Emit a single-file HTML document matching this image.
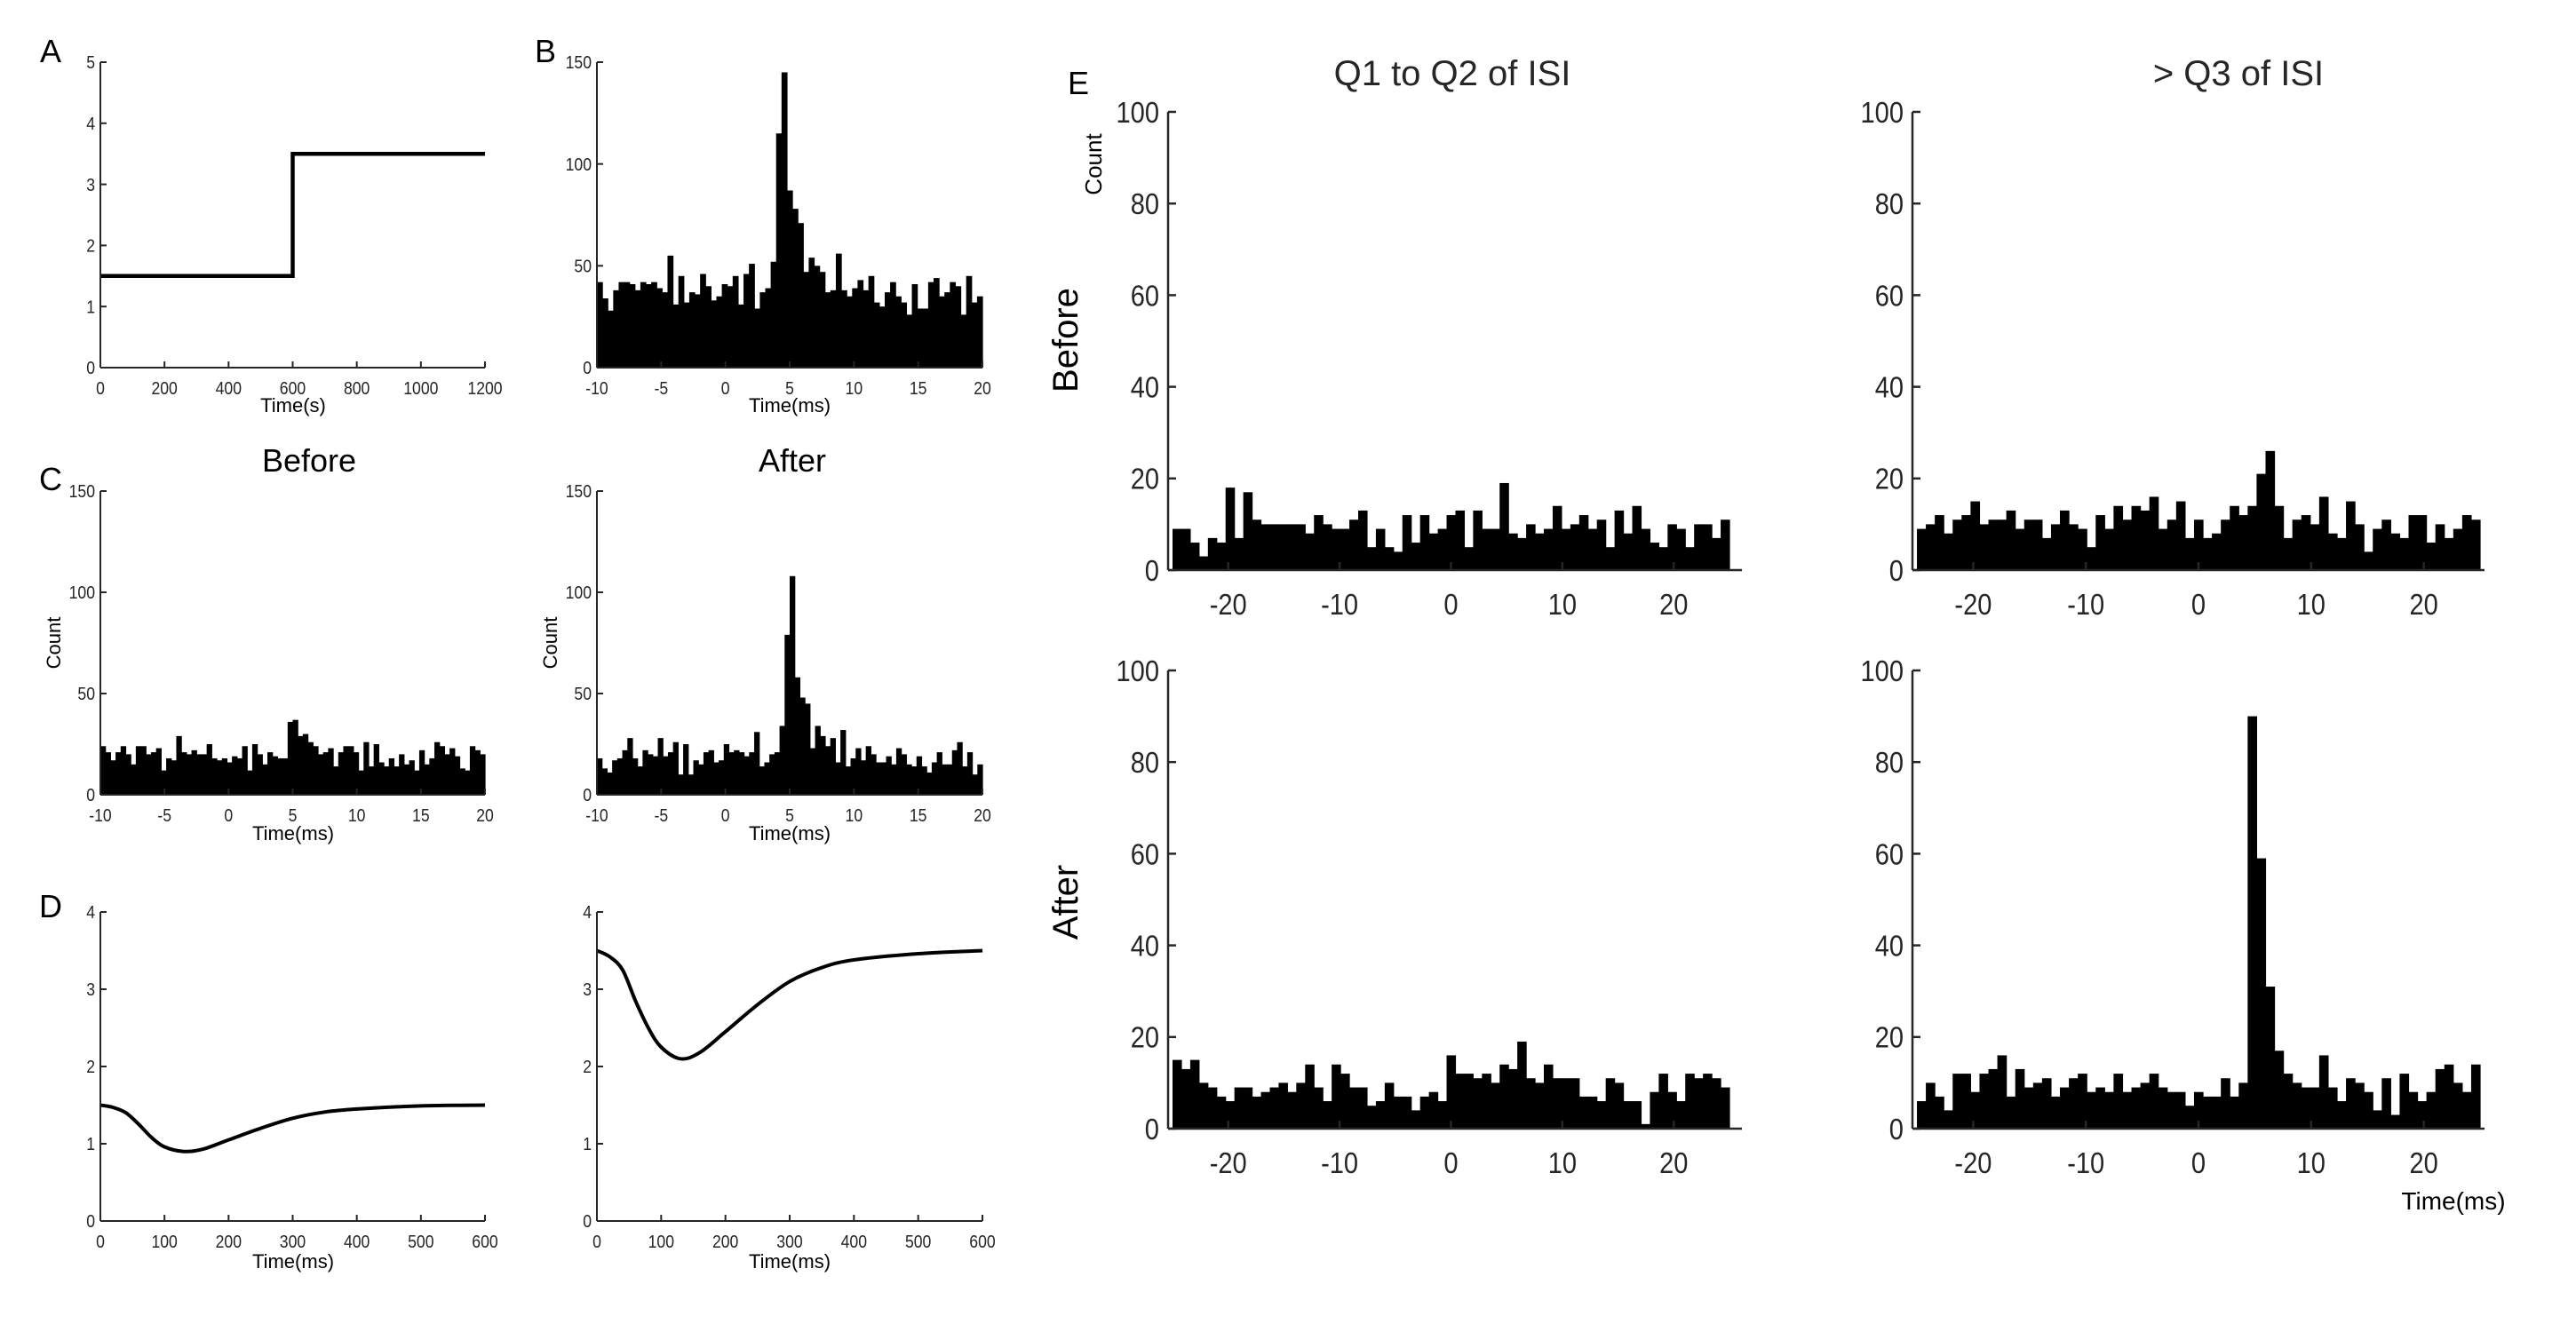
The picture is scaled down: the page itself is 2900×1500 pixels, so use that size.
<!DOCTYPE html>
<html><head><meta charset="utf-8"><style>
html,body{margin:0;padding:0;background:#fff;}
svg{display:block;}
.tk{font-family:"Liberation Sans Narrow","Liberation Sans",sans-serif;fill:#262626;}
.lb{font-family:"Liberation Sans",sans-serif;fill:#000;}
</style></head><body>
<svg id="fig" xmlns="http://www.w3.org/2000/svg" width="2900" height="1500" viewBox="0 0 2900 1500"></svg>
<script>
// ---- data ----
const aTimes=[0,600,600,1200];
const aValues=[1.5,1.5,3.5,3.5];
const bCounts=[42,34,28,38,42,42,41,38,42,41,42,39,37,55,31,45,32,37,36,46,40,33,35,41,40,45,31,46,51,29,37,39,52,115,145,87,78,71,47,54,50,47,37,38,56,38,35,39,43,38,45,32,30,37,42,35,32,26,41,29,29,42,44,35,37,42,40,26,45,32,35];
const cBeforeCounts=[24,21,17,21,24,20,15,24,24,20,21,23,12,18,17,29,21,20,22,20,20,25,18,17,18,16,19,18,24,12,25,20,15,21,19,18,18,36,37,29,30,26,24,20,21,23,14,21,24,24,21,12,26,14,25,16,14,18,14,20,15,17,12,22,15,18,26,24,20,23,19,13,12,24,22,20];
const cAfterCounts=[18,13,11,17,18,22,28,18,14,22,20,19,28,19,21,26,10,25,10,17,15,21,22,16,17,25,21,22,21,19,21,31,14,16,20,21,34,79,108,58,48,45,23,34,29,24,28,16,32,14,18,23,17,24,20,16,16,19,15,23,20,15,14,19,14,11,16,21,15,15,22,26,14,21,10,15];
const dLeftT=[0,20,40,60,80,100,130,160,200,250,300,350,400,500,600];
const dLeftV=[1.5,1.47,1.4,1.25,1.08,0.96,0.9,0.93,1.05,1.2,1.33,1.41,1.45,1.49,1.5];
const dRightT=[0,20,40,60,80,100,130,160,200,250,300,350,400,500,600];
const dRightV=[3.5,3.42,3.25,2.85,2.5,2.25,2.1,2.18,2.45,2.8,3.1,3.28,3.38,3.46,3.5];
const eQ12Before=[9,9,6,3,7,6,18,7,17,11,10,10,10,10,10,8,12,10,9,9,11,13,5,9,5,4,12,6,12,8,9,12,13,5,13,9,9,19,8,7,10,8,9,14,9,10,12,9,11,5,13,8,14,9,6,5,10,9,5,10,10,7,11];
const eQ3Before=[9,10,12,8,11,12,15,10,11,11,13,9,11,11,7,10,13,10,9,5,12,9,14,11,14,13,16,9,11,15,7,11,7,8,11,14,12,14,21,26,14,7,11,12,10,16,8,7,15,10,4,9,11,8,7,12,12,6,10,7,9,12,11];
const eQ12After=[15,13,15,10,9,7,6,9,9,7,8,9,10,8,10,14,9,6,14,12,9,9,5,6,10,7,7,4,7,8,6,16,12,12,11,12,10,14,13,19,11,10,14,11,11,11,7,7,6,11,10,6,6,1,8,12,8,6,12,11,12,11,9];
const eQ3After=[6,10,7,4,12,12,8,12,13,16,7,13,9,10,11,7,9,11,12,8,9,8,12,8,9,10,12,9,8,8,5,8,7,7,11,7,10,90,59,31,17,12,10,9,9,16,9,6,11,10,8,4,11,3,12,8,6,8,13,14,10,8,14];
const aXTicks=[0,200,400,600,800,1000,1200];
const aYTicks=[0,1,2,3,4,5];
const bXTicks=[-10,-5,0,5,10,15,20];
const bYTicks=[0,50,100,150];
const dXTicks=[0,100,200,300,400,500,600];
const dYTicks=[0,1,2,3,4];
const eXTicks=[-20,-10,0,10,20];
const eYTicks=[0,20,40,60,80,100];

const NS='http://www.w3.org/2000/svg';
const svg=document.getElementById('fig');
function mk(tag,attrs,txt){const e=document.createElementNS(NS,tag);for(const k in attrs)e.setAttribute(k,attrs[k]);if(txt!==undefined)e.textContent=txt;svg.appendChild(e);return e;}

function makeAxes(p){
  const sx=v=>p.x0+(v-p.xmin)/(p.xmax-p.xmin)*(p.x1-p.x0);
  const sy=v=>p.yb-(v-p.ymin)/(p.ymax-p.ymin)*(p.yb-p.yt);
  return {sx,sy};
}
function drawAxes(p,s){
  const ax=p.yAxisX!==undefined?p.yAxisX:p.x0;
  const xa=mk('line',{x1:ax,y1:p.yb,x2:p.xAxisEnd||p.x1,y2:p.yb,stroke:'#262626','stroke-width':p.lw});
  
  
  const ya=mk('line',{x1:ax,y1:p.yb,x2:ax,y2:p.yt,stroke:'#262626','stroke-width':p.lw});
  
  
  p.xticks.forEach(v=>{
    const x=s.sx(v);
    const t=mk('line',{x1:x,y1:p.yb,x2:x,y2:p.yb-p.tl,stroke:'#262626','stroke-width':p.lw});
    
    
    const l=mk('text',{x:x,y:p.yb+p.xlo,'font-size':p.fs,'text-anchor':'middle',class:'tk tick'},String(v));
    
    
  });
  p.yticks.forEach(v=>{
    const y=s.sy(v);
    const t=mk('line',{x1:ax,y1:y,x2:ax+p.tl,y2:y,stroke:'#262626','stroke-width':p.lw});
    
    
    const l=mk('text',{x:ax-p.ylo,y:y+p.fs*0.36,'font-size':p.fs,'text-anchor':'end',class:'tk tick'},String(v));
    
    
  });
}
function drawHist(p,vals){
  const s=makeAxes(p);
  const n=vals.length,w=(p.xmax-p.xmin)/n;
  vals.forEach((v,i)=>{
    const xa=s.sx(p.xmin+i*w),xb=s.sx(p.xmin+(i+1)*w);
    const r=mk('rect',{x:xa,y:s.sy(v),width:xb-xa+0.6,height:s.sy(0)-s.sy(v),fill:'#000'});
    
    
  });
  drawAxes(p,s);
}
function smoothPath(pts){
  let d='M'+pts[0][0]+','+pts[0][1];
  for(let i=0;i<pts.length-1;i++){
    const p0=pts[Math.max(0,i-1)],p1=pts[i],p2=pts[i+1],p3=pts[Math.min(pts.length-1,i+2)];
    const c1=[p1[0]+(p2[0]-p0[0])/6,p1[1]+(p2[1]-p0[1])/6];
    const c2=[p2[0]-(p3[0]-p1[0])/6,p2[1]-(p3[1]-p1[1])/6];
    d+=' C'+c1[0]+','+c1[1]+' '+c2[0]+','+c2[1]+' '+p2[0]+','+p2[1];
  }
  return d;
}
function drawCurve(p,ts,vs,smooth){
  const s=makeAxes(p);
  const pts=ts.map((t,i)=>[s.sx(t),s.sy(vs[i])]);
  const d=smooth?smoothPath(pts):'M'+pts.map(q=>q[0]+','+q[1]).join(' L');
  const c=mk('path',{d:d,fill:'none',stroke:'#000','stroke-width':p.cw,'stroke-linejoin':'miter'});
  
  
  drawAxes(p,s);
}
function label(txt,x,y,fs,name,rot,cls){
  const e=mk('text',{x:x,y:y,'font-size':fs,'text-anchor':'middle',class:cls||'lb'},txt);
  if(rot)e.setAttribute('transform','rotate(-90 '+x+' '+y+')');
  
  
}
const small={lw:2,tl:7,fs:20,xlo:30,ylo:6};
const big={lw:2.5,tl:9,fs:33,xlo:50,ylo:10};

drawCurve(Object.assign({name:'panel-a',x0:113,x1:546,yb:414,yt:70,xmin:0,xmax:1200,ymin:0,ymax:5,xticks:aXTicks,yticks:aYTicks,cw:4.5},small),aTimes,aValues,false);
drawHist(Object.assign({name:'panel-b',x0:672,x1:1106,yb:414,yt:70,xmin:-10,xmax:20,ymin:0,ymax:150,xticks:bXTicks,yticks:bYTicks},small),bCounts);
drawHist(Object.assign({name:'panel-c-before',x0:113,x1:546,yb:895,yt:553,xmin:-10,xmax:20,ymin:0,ymax:150,xticks:bXTicks,yticks:bYTicks},small),cBeforeCounts);
drawHist(Object.assign({name:'panel-c-after',x0:672,x1:1106,yb:895,yt:553,xmin:-10,xmax:20,ymin:0,ymax:150,xticks:bXTicks,yticks:bYTicks},small),cAfterCounts);
drawCurve(Object.assign({name:'panel-d-before',x0:113,x1:546,yb:1375,yt:1027,xmin:0,xmax:600,ymin:0,ymax:4,xticks:dXTicks,yticks:dYTicks,cw:4},small),dLeftT,dLeftV,true);
drawCurve(Object.assign({name:'panel-d-after',x0:672,x1:1106,yb:1375,yt:1027,xmin:0,xmax:600,ymin:0,ymax:4,xticks:dXTicks,yticks:dYTicks,cw:4},small),dRightT,dRightV,true);
drawHist(Object.assign({name:'e-q12-before',x0:1320,x1:1947,yAxisX:1315,xAxisEnd:1961,yb:642,yt:126,xmin:-25,xmax:25,ymin:0,ymax:100,xticks:eXTicks,yticks:eYTicks},big),eQ12Before);
drawHist(Object.assign({name:'e-q3-before',x0:2158,x1:2792,yAxisX:2153,xAxisEnd:2797,yb:642,yt:126,xmin:-25,xmax:25,ymin:0,ymax:100,xticks:eXTicks,yticks:eYTicks},big),eQ3Before);
drawHist(Object.assign({name:'e-q12-after',x0:1320,x1:1947,yAxisX:1315,xAxisEnd:1961,yb:1271,yt:755,xmin:-25,xmax:25,ymin:0,ymax:100,xticks:eXTicks,yticks:eYTicks},big),eQ12After);
drawHist(Object.assign({name:'e-q3-after',x0:2158,x1:2792,yAxisX:2153,xAxisEnd:2797,yb:1271,yt:755,xmin:-25,xmax:25,ymin:0,ymax:100,xticks:eXTicks,yticks:eYTicks},big),eQ3After);

label('A',57,70,36,'panel-a-letter');
label('B',614,70,36,'panel-b-letter');
label('C',57,552,36,'panel-c-letter');
label('D',57,1033,36,'panel-d-letter');
label('E',1214,106,36,'panel-e-letter');
label('Time(s)',330,464,22,'panel-a-x-title');
label('Time(ms)',889,464,22,'panel-b-x-title');
label('Time(ms)',330,946,22,'panel-c-before-x-title');
label('Time(ms)',889,946,22,'panel-c-after-x-title');
label('Time(ms)',330,1428,22,'panel-d-before-x-title');
label('Time(ms)',889,1428,22,'panel-d-after-x-title');
label('Count',68,724,22,'panel-c-before-y-title',true);
label('Count',627,724,22,'panel-c-after-y-title',true);
label('Before',348,531,36,'panel-c-before-title');
label('After',892,531,36,'panel-c-after-title');
label('Q1 to Q2 of ISI',1635,96,40,'e-left-column-title',false,'tk');
label('> Q3 of ISI',2520,96,40,'e-right-column-title',false,'tk');
label('Count',1240,185,26,'e-y-title',true);
label('Before',1213,383,40,'e-before-row-label',true);
label('After',1213,1016,40,'e-after-row-label',true);
label('Time(ms)',2762,1362,28,'e-x-title');

// condense tick labels to mimic narrow font
document.querySelectorAll('text.tick').forEach(t=>{
  const w=t.getComputedTextLength();
  if(w>0){t.setAttribute('textLength',(w*0.88).toFixed(1));t.setAttribute('lengthAdjust','spacingAndGlyphs');}
});
</script>
</body></html>
